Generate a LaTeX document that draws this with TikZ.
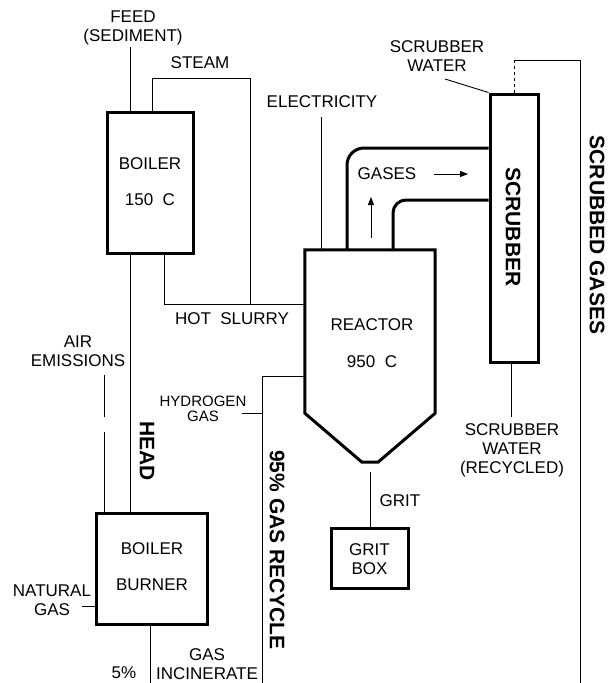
\documentclass[tikz,border=0pt]{standalone}
\usepackage{fontspec}
\setmainfont{Liberation Sans}
\usetikzlibrary{arrows.meta,positioning,calc}

\tikzset{
  unitbox/.style={draw, line width=3pt, inner sep=0pt},
  flow/.style={line width=0.9pt},
  pipe/.style={line width=3pt},
  lbl/.style={inner sep=0pt, align=center, font=\fontsize{17}{19}\selectfont},
  small/.style={inner sep=0pt, align=center, font=\fontsize{15}{15}\selectfont},
  tag/.style={inner sep=0pt, font=\fontsize{21}{22}\selectfont\bfseries, rotate=-90}
}

\begin{document}
\begin{tikzpicture}[x=1pt, y=-1pt, >={Triangle[length=8pt,width=6pt]}]
        \useasboundingbox (0,0) rectangle (612,683);

        % Units
        \node[unitbox, minimum width=86pt, minimum height=141pt] (boiler) at (150,182.5) {};
        \node[unitbox, minimum width=111pt, minimum height=111pt] (burner) at (151.5,568.5) {};
        \node[unitbox, minimum width=77pt, minimum height=60pt] (gritbox) at (369.5,558) {};
        \node[unitbox, minimum width=48pt, minimum height=268pt] (scrubber) at (514,228) {};
        \node[minimum width=130pt, minimum height=163pt, inner sep=0pt] (reactor) at (370,331.5) {};

        % Reactor vessel with cone
        \draw[line width=3pt, line join=miter] (reactor.north west) -- (reactor.north east) -- (reactor.south east)
            -- ($(reactor.south)+(8,49)$) -- ($(reactor.south)+(-8,49)$) -- (reactor.south west) -- cycle;

        % Texts in the units
        \node[lbl] (boilertxt) at (150,164) {BOILER};
        \node[lbl] (boilertemp) at (150,200) {150~~C};
        \node[lbl] (burnertxt) at (152,549) {BOILER};
        \node[lbl] (burnertxt2) at (152,585) {BURNER};
        \node[lbl] (reactortxt) at (372,325) {REACTOR};
        \node[lbl] (reactortemp) at (372,362) {950~~C};
        \node[lbl] (grittxt) at (369.5,559) {GRIT\\BOX};
        \node[tag] (scrubbertxt) at (513,227) {SCRUBBER};

        % Stream labels
        \node[lbl] (feed) at (133,28) {FEED\\(SEDIMENT)};
        \node[lbl] (steam) at (200,63) {STEAM};
        \node[lbl] (elec) at (322,102) {ELECTRICITY};
        \node[lbl] (swater) at (437,56.5) {SCRUBBER\\WATER};
        \node[lbl] (slurry) at (232,319) {HOT~ SLURRY};
        \node[lbl] (air) at (78,351.5) {AIR\\EMISSIONS};
        \node[small] (hydrogen) at (203,409) {HYDROGEN\\GAS};
        \node[lbl] (natgas) at (52,600) {NATURAL\\GAS};
        \node[lbl] (five) at (124,673) {5\%};
        \node[lbl] (incin) at (207,664.5) {GAS\\INCINERATE};
        \node[lbl] (grit) at (400,501) {GRIT};
        \node[lbl] (swrec) at (512,450.5) {SCRUBBER\\WATER\\(RECYCLED)};
        \node[lbl] (gases) at (387,174) {GASES};
        \node[tag] (head) at (147,451) {HEAD};
        \node[tag] (recycle) at (277,550) {95\% GAS RECYCLE};
        \node[tag] (scrubbed) at (597,235) {SCRUBBED GASES};

        % Connector points
        \coordinate (feedend) at (130.5,47);
        \coordinate (steamknee) at (152,78);
        \coordinate (steamdrop) at (250,78);
        \coordinate (slurryknee) at (164,304);
        \coordinate (elecend) at (321,117);
        \coordinate (airtop) at (104,375);
        \coordinate (airbreak) at (104,417);
        \coordinate (airlow) at (104,432);
        \coordinate (gasin) at (82,606);
        \coordinate (incinend) at (150,683);
        \coordinate (recycleend) at (262,683);
        \coordinate (recycleknee) at (262,376);
        \coordinate (hydrogenin) at (242,413);
        \coordinate (gritout) at (370,472);
        \coordinate (swin) at (445,79);
        \coordinate (swout) at (511,417);
        \coordinate (scrubtop) at (514,60);
        \coordinate (scrubturn) at (580,60);
        \coordinate (scrubend) at (580,683);
        \coordinate (pipeout) at (347,148);
        \coordinate (pipein) at (393,200);
        \coordinate (uptail) at (371,238);
        \coordinate (uphead) at (371,197);
        \coordinate (righttail) at (434,174);
        \coordinate (righthead) at (468,174);

        % Streams
        \draw[flow] (feedend) -- (boiler.north -| feedend);
        \draw[flow] (boiler.north -| steamknee) -- (steamknee) -- (steamdrop) -- (steamdrop |- slurryknee);
        \draw[flow] (boiler.south -| slurryknee) -- (slurryknee) -- (reactor.west |- slurryknee);
        \draw[flow] (elecend) -- (reactor.north -| elecend);
        \draw[flow] (boiler.south -| feedend) -- (burner.north -| feedend);
        \draw[flow] (airtop) -- (airbreak);
        \draw[flow] (airlow) -- (burner.north -| airlow);
        \draw[flow] (gasin) -- (burner.west |- gasin);
        \draw[flow] (burner.south -| incinend) -- (incinend);
        \draw[flow] (recycleend) -- (recycleknee) -- (reactor.west |- recycleknee);
        \draw[flow] (hydrogenin) -- (recycleknee |- hydrogenin);
        \draw[flow] (gritout) -- (gritbox.north -| gritout);
        \draw[flow] (swin) -- (scrubber.north west);
        \draw[flow] (scrubber.south -| swout) -- (swout);
        \draw[flow, dashed] (scrubber.north) -- (scrubtop);
        \draw[flow] (scrubtop) -- (scrubturn) -- (scrubend);

        % Gas duct
        \draw[pipe, rounded corners=17pt] (reactor.north -| pipeout) -- (pipeout) -- (scrubber.west |- pipeout);
        \draw[pipe, rounded corners=13pt] (reactor.north -| pipein) -- (pipein) -- (scrubber.west |- pipein);
        \draw[flow, ->] (uptail) -- (uphead);
        \draw[flow, ->] (righttail) -- (righthead);
    \end{tikzpicture}
\end{document}
